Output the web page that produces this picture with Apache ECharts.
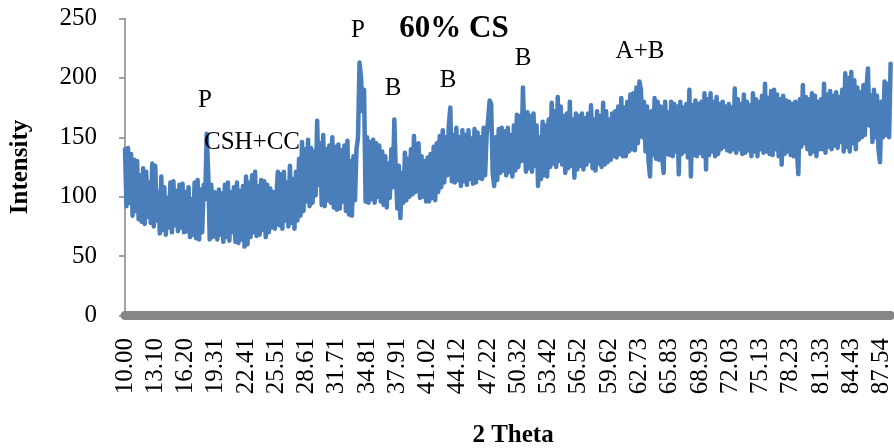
<!DOCTYPE html>
<html>
<head>
<meta charset="utf-8">
<script src="https://cdn.jsdelivr.net/npm/echarts@6/dist/echarts.min.js"></script>
<style>
  html, body { margin: 0; padding: 0; background: #fff; }
  #chart { width: 894px; height: 448px; }
</style>
</head>
<body>
<div id="chart"></div>
<script>
// 2-theta tick labels (one every 20 samples)
var tickLabels = ['10.00', '13.10', '16.20', '19.31', '22.41', '25.51', '28.61', '31.71',
  '34.81', '37.91', '41.02', '44.12', '47.22', '50.32', '53.42', '56.52', '59.62', '62.73',
  '65.83', '68.93', '72.03', '75.13', '78.23', '81.33', '84.43', '87.54'];

// XRD intensity, 20 samples per labelled step
var intensity = [
  140, 92, 141, 95, 136, 84, 131, 88, 130, 81, 118, 79, 124, 77, 121, 83, 112, 78, 128, 75,
  126, 80, 104, 69, 117, 72, 108, 68, 99, 74, 112, 70, 113, 76, 105, 71, 110, 74, 111, 70,
  104, 71, 108, 66, 98, 68, 112, 65, 114, 64, 106, 70, 110, 98, 153, 120, 64, 110, 66, 104,
  100, 64, 106, 68, 103, 62, 110, 66, 112, 63, 104, 70, 108, 62, 112, 61, 105, 64, 109, 58,
  117, 60, 112, 66, 118, 70, 121, 67, 109, 68, 114, 72, 113, 66, 110, 70, 107, 74, 104, 73,
  98, 121, 76, 119, 73, 121, 80, 112, 75, 126, 78, 115, 73, 121, 80, 132, 84, 146, 88, 140,
  96, 148, 92, 141, 95, 138, 101, 164, 110, 145, 93, 152, 92, 140, 97, 143, 95, 150, 91, 142,
  89, 144, 90, 139, 96, 143, 88, 147, 85, 130, 84, 134, 97, 140, 150, 213, 200, 172, 190, 96,
  150, 95, 146, 98, 148, 95, 145, 100, 143, 96, 138, 93, 134, 91, 128, 99, 140, 108, 165, 120,
  90, 126, 82, 120, 95, 137, 97, 132, 100, 140, 102, 151, 104, 138, 145, 99, 134, 100, 130, 96,
  133, 96, 136, 99, 142, 97, 145, 104, 151, 108, 156, 112, 150, 118, 160, 175, 113, 152, 112, 158,
  114, 150, 109, 156, 113, 152, 110, 156, 115, 149, 111, 157, 112, 154, 116, 150, 115, 158, 118, 152,
  165, 181, 178, 120, 109, 150, 114, 157, 120, 158, 122, 155, 118, 158, 121, 152, 117, 160, 122, 169,
  125, 168, 130, 192, 150, 121, 171, 124, 168, 121, 170, 126, 160, 109, 150, 115, 163, 118, 160, 117,
  165, 125, 179, 128, 172, 125, 184, 130, 176, 127, 168, 120, 170, 124, 180, 126, 165, 116, 170, 123,
  168, 126, 170, 123, 166, 127, 170, 130, 177, 124, 165, 122, 172, 128, 168, 125, 179, 127, 172, 129,
  165, 131, 170, 134, 172, 133, 176, 136, 183, 134, 175, 134, 180, 138, 186, 140, 187, 139, 192, 145,
  197, 190, 150, 180, 138, 176, 130, 117, 172, 135, 183, 132, 180, 131, 176, 134, 120, 180, 136, 171,
  135, 180, 134, 178, 138, 176, 119, 180, 136, 175, 138, 178, 133, 190, 117, 177, 135, 181, 134, 178,
  137, 180, 134, 187, 123, 182, 135, 187, 138, 180, 134, 184, 136, 178, 140, 180, 142, 176, 139, 178,
  138, 175, 140, 191, 137, 182, 140, 178, 136, 186, 137, 180, 139, 177, 134, 187, 138, 182, 134, 180,
  140, 185, 137, 195, 138, 183, 136, 189, 135, 190, 140, 186, 134, 182, 127, 185, 136, 181, 138, 180,
  135, 178, 134, 180, 140, 119, 182, 142, 194, 145, 184, 140, 182, 136, 187, 138, 185, 134, 180, 140,
  182, 140, 195, 137, 186, 142, 189, 140, 185, 143, 188, 141, 184, 146, 190, 138, 204, 142, 200, 138,
  205, 145, 198, 140, 192, 148, 188, 150, 194, 152, 190, 208, 160, 185, 146, 190, 150, 185, 140, 129,
  180, 150, 197, 152, 195, 150, 212
];

// phase annotations: text and centre position in px
var peakNotes = [
  { text: 'P', x: 205, y: 100 },
  { text: 'CSH+CC', x: 252, y: 142 },
  { text: 'P', x: 358, y: 30 },
  { text: 'B', x: 393, y: 88 },
  { text: 'B', x: 448, y: 80 },
  { text: 'B', x: 523, y: 58 },
  { text: 'A+B', x: 640, y: 51 }
];

var STEP = 20;
var categories = intensity.map(function (v, i) {
  return i % STEP === 0 ? (tickLabels[i / STEP] || '') : '';
});

var serif = '"Liberation Serif", "Times New Roman", serif';

var graphics = peakNotes.map(function (n) {
  return {
    type: 'text', x: n.x, y: n.y, z: 10,
    style: { text: n.text, font: '25px ' + serif, fill: '#000', align: 'center', verticalAlign: 'middle' }
  };
});
graphics.push({
  type: 'text', x: 454, y: 29, z: 10,
  style: { text: '60% CS', font: 'bold 31px ' + serif, fill: '#000', align: 'center', verticalAlign: 'middle' }
});
graphics.push({
  type: 'text', x: 513, y: 436,
  style: { text: '2 Theta', font: 'bold 25px ' + serif, fill: '#000', align: 'center', verticalAlign: 'middle' }
});

var chart = echarts.init(document.getElementById('chart'), null, { renderer: 'canvas' });
chart.setOption({
  animation: false,
  backgroundColor: '#fff',
  grid: { left: 122, right: 1, top: 18.5, bottom: 132.5, containLabel: false },
  xAxis: {
    type: 'category',
    data: categories,
    boundaryGap: false,
    offset: 2.5,
    axisLine: { show: true, lineStyle: { color: '#868686', width: 9 } },
    axisTick: { show: false },
    splitLine: { show: false },
    axisLabel: {
      interval: function (index) { return index % STEP === 0; },
      rotate: 90,
      margin: 20,
      color: '#000',
      fontFamily: serif,
      fontSize: 25
    }
  },
  yAxis: {
    type: 'value',
    min: 0, max: 250, interval: 50,
    name: 'Intensity',
    nameLocation: 'middle',
    nameRotate: 90,
    nameGap: 92,
    nameTextStyle: { color: '#000', fontFamily: serif, fontSize: 25, fontWeight: 'bold' },
    axisLine: { show: true, lineStyle: { color: '#868686', width: 1.5 } },
    axisTick: { show: true, length: 6, lineStyle: { color: '#868686', width: 1.5 } },
    splitLine: { show: false },
    axisLabel: { margin: 28, color: '#000', fontFamily: serif, fontSize: 25 }
  },
  series: [{
    type: 'line',
    data: intensity,
    showSymbol: false,
    symbol: 'none',
    sampling: false,
    lineStyle: { color: '#4A7EBB', width: 4.5, join: 'round', cap: 'round' },
    z: 1
  }],
  graphic: graphics
});
</script>
</body>
</html>
